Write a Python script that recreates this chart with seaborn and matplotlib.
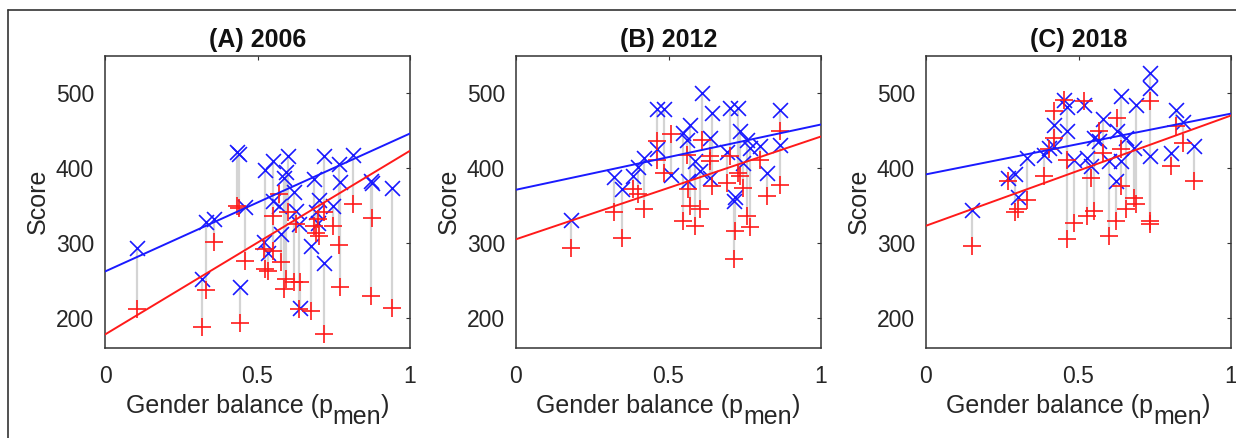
import matplotlib
matplotlib.use("Agg")
import matplotlib.pyplot as plt
import seaborn as sns
import pandas as pd
from matplotlib.lines import Line2D
from matplotlib.offsetbox import TextArea, HPacker, VPacker, DrawingArea, AnchoredOffsetbox

# ---------------- data ----------------
titles = ["(A) 2006", "(B) 2012", "(C) 2018"]

x_A = [0.106, 0.330, 0.319, 0.359, 0.432, 0.439, 0.441, 0.459, 0.526, 0.534, 0.520, 0.550,
       0.599, 0.592, 0.588, 0.552, 0.572, 0.577, 0.621, 0.626, 0.637, 0.640, 0.675, 0.686,
       0.703, 0.719, 0.746, 0.766, 0.770, 0.719, 0.812, 0.871, 0.877, 0.942, 0.692, 0.697]
men_A = [294, 328, 252, 332, 421, 419, 242, 348, 398, 287, 301, 410,
         416, 395, 387, 356, 350, 312, 368, 343, 325, 213, 296, 385,
         358, 416, 350, 405, 381, 273, 417, 383, 380, 374, 341, 327]
women_A = [212, 237, 188, 301, 350, 347, 194, 276, 266, 263, 292, 290,
           341, 252, 239, 336, 365, 275, 248, 326, 212, 248, 210, 323,
           310, 341, 323, 298, 241, 179, 352, 230, 333, 213, 314, 332]

x_B = [0.180, 0.321, 0.346, 0.385, 0.420, 0.401, 0.461, 0.461, 0.485, 0.507, 0.549, 0.570,
       0.560, 0.565, 0.587, 0.609, 0.603, 0.641, 0.636, 0.636, 0.691, 0.702, 0.729, 0.718,
       0.714, 0.734, 0.745, 0.756, 0.767, 0.800, 0.822, 0.866, 0.866]
men_B = [331, 388, 372, 389, 414, 402, 425, 479, 479, 391, 447, 458,
         438, 383, 409, 500, 396, 473, 440, 387, 422, 480, 480, 361,
         356, 449, 407, 438, 427, 429, 394, 478, 431]
women_B = [294, 341, 307, 372, 345, 365, 411, 436, 394, 445, 329, 349,
           418, 372, 323, 438, 345, 376, 416, 410, 380, 416, 394, 316,
           279, 389, 374, 336, 321, 411, 363, 449, 378]

x_C = [0.152, 0.268, 0.293, 0.300, 0.331, 0.386, 0.402, 0.419, 0.419, 0.454, 0.463, 0.463,
       0.485, 0.517, 0.529, 0.540, 0.550, 0.567, 0.581, 0.600, 0.622, 0.627, 0.638, 0.638,
       0.655, 0.687, 0.682, 0.735, 0.735, 0.735, 0.803, 0.819, 0.841, 0.880]
men_C = [344, 387, 392, 362, 414, 417, 427, 429, 458, 491, 482, 449,
         411, 484, 414, 403, 440, 436, 465, 409, 383, 449, 496, 409,
         440, 484, 427, 527, 507, 416, 420, 478, 462, 429]
women_C = [296, 383, 341, 345, 358, 389, 425, 476, 440, 491, 305, 411,
           327, 489, 336, 387, 343, 449, 420, 310, 329, 467, 425, 376,
           345, 352, 360, 489, 330, 325, 403, 456, 434, 383]

# fitted lines (intercept at p=0, slope)
men_intercept = [262, 371, 391.5]
men_slope = [184, 87, 81]
women_intercept = [178, 305, 323]
women_slope = [245, 137, 147]

xticks = [0, 0.5, 1]
xticklabels = ["0", "0.5", "1"]
yticks = [200, 300, 400, 500]

panels = [(x_A, men_A, women_A), (x_B, men_B, women_B), (x_C, men_C, women_C)]

# ---------------- style ----------------
sns.set_theme(style="white")
plt.rcParams["font.family"] = ["Liberation Sans", "DejaVu Sans"]

W, H = 1236, 438
fig = plt.figure(figsize=(W / 100, H / 100), dpi=100)

# outer frame (only top and left edges visible)
fx0, fy0 = 8 / W, 1 - 10 / H
fig.add_artist(Line2D([fx0, 1.0], [fy0, fy0], transform=fig.transFigure, color="#333333", lw=1.2))
fig.add_artist(Line2D([fx0, fx0], [fy0, 0.0], transform=fig.transFigure, color="#333333", lw=1.2))

lefts = [105, 516, 926]
width_px = 305
bottom = 1 - 348 / H
height = (348 - 55.5) / H

BLUE = "#1a1aff"
RED = "#ff1a1a"
GREY = "#d4d4d4"

for i, (xs, men, women) in enumerate(panels):
    ax = fig.add_axes([lefts[i] / W, bottom, width_px / W, height])
    df = pd.DataFrame({"p": xs, "men": men, "women": women})

    ax.vlines(df["p"], df["women"], df["men"], color=GREY, lw=1.6, zorder=1)

    sns.scatterplot(data=df, x="p", y="men", marker="x", color=BLUE, s=115,
                    linewidth=1.2, ax=ax, zorder=3)
    sns.scatterplot(data=df, x="p", y="women", marker="+", color=RED, s=160,
                    linewidth=1.2, ax=ax, zorder=3)

    line_x = [0, 1]
    sns.lineplot(x=line_x, y=[men_intercept[i], men_intercept[i] + men_slope[i]],
                 color=BLUE, lw=1.4, ax=ax, zorder=4)
    sns.lineplot(x=line_x, y=[women_intercept[i], women_intercept[i] + women_slope[i]],
                 color=RED, lw=1.4, ax=ax, zorder=4)

    ax.set_xlim(0, 1)
    ax.set_ylim(160, 550)
    ax.set_xticks(xticks)
    ax.set_xticklabels(xticklabels)
    ax.set_yticks(yticks)
    ax.tick_params(axis="both", direction="in", top=True, right=True, length=3,
                   width=0.8, color="#333333", labelsize=16.5, labelcolor="#262626")
    ax.tick_params(axis="x", pad=12)
    ax.tick_params(axis="y", pad=8)
    for sp in ax.spines.values():
        sp.set_color("#333333")
        sp.set_linewidth(1.1)

    ax.set_title(titles[i], fontsize=18, fontweight="bold", pad=6.3, color="#111111")
    ax.set_ylabel("Score", fontsize=18, labelpad=4, color="#262626")
    ax.set_xlabel("")

    tp = dict(fontsize=18, color="#262626", family=["Liberation Sans", "DejaVu Sans"])
    t1 = TextArea("Gender balance (p", textprops=tp)
    t2 = VPacker(children=[DrawingArea(0, 7.5), TextArea("men", textprops=tp)],
                 pad=0, sep=0, align="left")
    t3 = TextArea(")", textprops=tp)
    box = HPacker(children=[t1, t2, t3], align="top", pad=0, sep=0)
    anch = AnchoredOffsetbox(loc="upper center", child=box, pad=0, borderpad=0,
                             frameon=False, bbox_to_anchor=(0.5, -0.158),
                             bbox_transform=ax.transAxes)
    ax.add_artist(anch)

fig.savefig("out.png", dpi=100)
